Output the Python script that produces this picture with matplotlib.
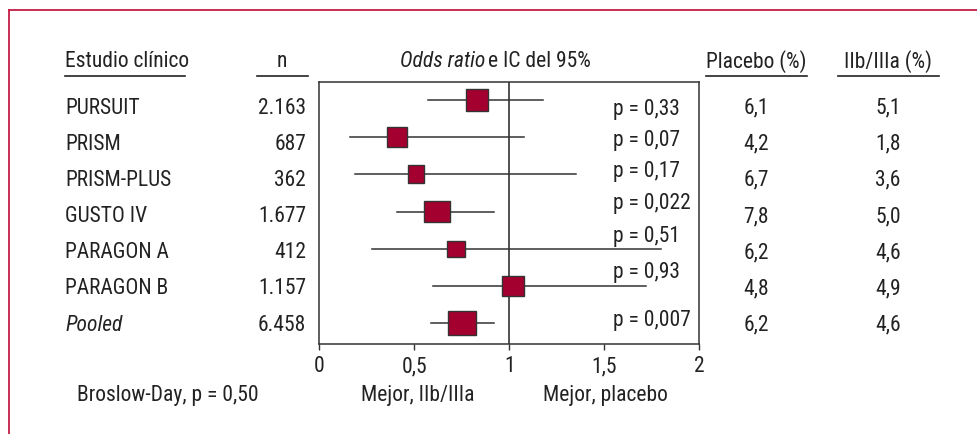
import matplotlib
matplotlib.use('Agg')
import matplotlib.pyplot as plt
from matplotlib.patches import Rectangle
from matplotlib.lines import Line2D

plt.rcParams['font.family'] = ['Roboto Condensed', 'DejaVu Sans']

# data
studies = ['PURSUIT', 'PRISM', 'PRISM-PLUS', 'GUSTO IV', 'PARAGON A', 'PARAGON B', 'Pooled']
n_vals = ['2.163', '687', '362', '1.677', '412', '1.157', '6.458']
or_vals = [0.83, 0.41, 0.51, 0.62, 0.72, 1.02, 0.75]
ci_lo = [0.57, 0.16, 0.19, 0.41, 0.28, 0.60, 0.59]
ci_hi = [1.18, 1.08, 1.35, 0.92, 1.80, 1.72, 0.92]
p_vals = ['p = 0,33', 'p = 0,07', 'p = 0,17', 'p = 0,022', 'p = 0,51', 'p = 0,93', 'p = 0,007']
placebo = ['6,1', '4,2', '6,7', '7,8', '6,2', '4,8', '6,2']
iib = ['5,1', '1,8', '3,6', '5,0', '4,6', '4,9', '4,6']
xticks = [0, 0.5, 1, 1.5, 2]
xtick_labels = ['0', '0,5', '1', '1,5', '2']

# box sizes (px) and p-label offsets, styling only
box_w = [22.7, 20.7, 16, 25.7, 18, 21.3, 28]
box_h = [22.3, 19.7, 17.7, 20.7, 16, 20.3, 24.3]
p_dy = [0.27, 0.1, -0.07, -0.21, -0.33, -0.37, -0.07]

W, H = 978, 434
txt = '#222222'
red = '#A3002F'
fs = 15.5

fig = plt.figure(figsize=(W / 100, H / 100), dpi=100)
bg = fig.add_axes([0, 0, 1, 1])
bg.set_xlim(0, W)
bg.set_ylim(H, 0)
bg.axis('off')

# crimson frame (top and left edges)
bg.add_line(Line2D([9, 9], [9.5, H], color='#C41E45', lw=1.3))
bg.add_line(Line2D([9, W], [9.5, 9.5], color='#C41E45', lw=1.3))

# headers with underlines
hy = 61.5
bg.text(65, hy, 'Estudio clínico', fontsize=fs, color=txt, va='center', ha='left')
bg.text(282, hy, 'n', fontsize=fs, color=txt, va='center', ha='center')
bg.text(485, hy, 'Odds ratio', fontsize=fs, color=txt, va='center', ha='right', style='italic')
bg.text(488, hy, 'e IC del 95%', fontsize=fs, color=txt, va='center', ha='left')
bg.text(756, hy, 'Placebo (%)', fontsize=fs, color=txt, va='center', ha='center')
bg.text(888, hy, 'IIb/IIIa (%)', fontsize=fs, color=txt, va='center', ha='center')
for x0, x1 in [(65, 185), (257, 308), (706, 807), (838, 939)]:
    bg.add_line(Line2D([x0, x1], [75.5, 75.5], color=txt, lw=1.2))

# table columns
row_y0, row_dy = 108, 36.2
for i in range(len(studies)):
    y = row_y0 + i * row_dy
    bg.text(65, y, studies[i], fontsize=fs, color=txt, va='center', ha='left',
            style='italic' if studies[i] == 'Pooled' else 'normal')
    bg.text(306, y, n_vals[i], fontsize=fs, color=txt, va='center', ha='right')
    bg.text(756, y, placebo[i], fontsize=fs, color=txt, va='center', ha='center')
    bg.text(888, y, iib[i], fontsize=fs, color=txt, va='center', ha='center')

bg.text(77, 396, 'Broslow-Day, p = 0,50', fontsize=fs, color=txt, va='center', ha='left')
bg.text(418, 396, 'Mejor, IIb/IIIa', fontsize=fs, color=txt, va='center', ha='center')
bg.text(605, 396, 'Mejor, placebo', fontsize=fs, color=txt, va='center', ha='center')

# forest plot axes
left, right, top, bottom = 319.3, 699, 82, 344
ax = fig.add_axes([left / W, 1 - bottom / H, (right - left) / W, (bottom - top) / H])
ax.set_xlim(0, 2)
ax.set_ylim(6.56, -0.48)
px_x = (right - left) / 2.0
px_y = (bottom - top) / 7.04

ax.axvline(1, color='#222222', lw=1.1, zorder=1)
for i in range(len(studies)):
    ax.plot([ci_lo[i], ci_hi[i]], [i, i], color='#333333', lw=1.1, zorder=2)
    w = box_w[i] / px_x
    h = box_h[i] / px_y
    ax.add_patch(Rectangle((or_vals[i] - w / 2, i - h / 2), w, h, facecolor=red,
                           edgecolor='#333333', lw=1.0, zorder=3))
    ax.text(1.545, i + p_dy[i], p_vals[i], fontsize=fs, color=txt, va='center', ha='left')

ax.set_xticks(xticks)
ax.set_xticklabels(xtick_labels, fontsize=fs, color=txt)
ax.set_yticks([])
ax.tick_params(axis='x', direction='out', length=4, width=1, color='#333333', pad=5)
for s in ax.spines.values():
    s.set_color('#333333')
    s.set_linewidth(1.1)

fig.savefig('out.png', dpi=100)
